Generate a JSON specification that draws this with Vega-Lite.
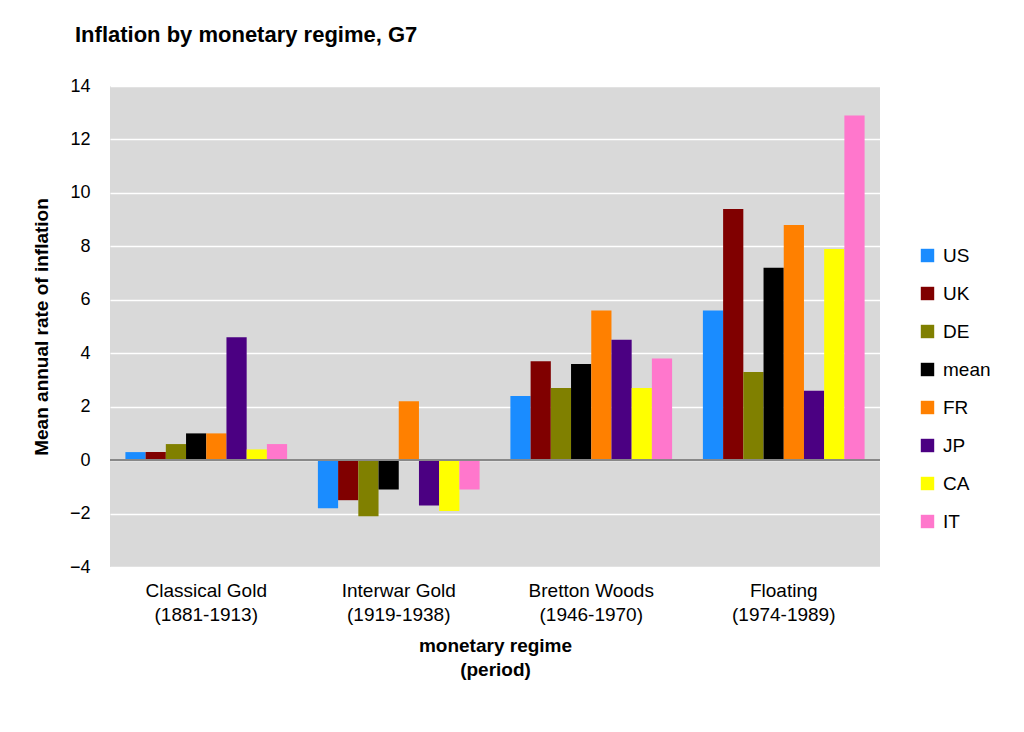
{
  "$schema": "https://vega.github.io/schema/vega-lite/v6.json",
  "autosize": {"type": "none"},
  "padding": {"left": 110, "top": 86, "right": 144, "bottom": 165},
  "width": 770,
  "height": 481,
  "title": {"text": "Inflation by monetary regime, G7", "anchor": "start", "frame": "group", "dx": -35, "offset": 30, "fontSize": 22, "font": "Liberation Sans", "fontWeight": "bold", "color": "black"},
  "config": {"view": {"fill": "#d9d9d9", "stroke": null}, "font": "Liberation Sans"},
  "data": {"values": [
    {"regime": "Classical Gold|(1881-1913)", "country": "US", "value": 0.3},
    {"regime": "Classical Gold|(1881-1913)", "country": "UK", "value": 0.3},
    {"regime": "Classical Gold|(1881-1913)", "country": "DE", "value": 0.6},
    {"regime": "Classical Gold|(1881-1913)", "country": "mean", "value": 1.0},
    {"regime": "Classical Gold|(1881-1913)", "country": "FR", "value": 1.0},
    {"regime": "Classical Gold|(1881-1913)", "country": "JP", "value": 4.6},
    {"regime": "Classical Gold|(1881-1913)", "country": "CA", "value": 0.4},
    {"regime": "Classical Gold|(1881-1913)", "country": "IT", "value": 0.6},
    {"regime": "Interwar Gold|(1919-1938)", "country": "US", "value": -1.8},
    {"regime": "Interwar Gold|(1919-1938)", "country": "UK", "value": -1.5},
    {"regime": "Interwar Gold|(1919-1938)", "country": "DE", "value": -2.1},
    {"regime": "Interwar Gold|(1919-1938)", "country": "mean", "value": -1.1},
    {"regime": "Interwar Gold|(1919-1938)", "country": "FR", "value": 2.2},
    {"regime": "Interwar Gold|(1919-1938)", "country": "JP", "value": -1.7},
    {"regime": "Interwar Gold|(1919-1938)", "country": "CA", "value": -1.9},
    {"regime": "Interwar Gold|(1919-1938)", "country": "IT", "value": -1.1},
    {"regime": "Bretton Woods|(1946-1970)", "country": "US", "value": 2.4},
    {"regime": "Bretton Woods|(1946-1970)", "country": "UK", "value": 3.7},
    {"regime": "Bretton Woods|(1946-1970)", "country": "DE", "value": 2.7},
    {"regime": "Bretton Woods|(1946-1970)", "country": "mean", "value": 3.6},
    {"regime": "Bretton Woods|(1946-1970)", "country": "FR", "value": 5.6},
    {"regime": "Bretton Woods|(1946-1970)", "country": "JP", "value": 4.5},
    {"regime": "Bretton Woods|(1946-1970)", "country": "CA", "value": 2.7},
    {"regime": "Bretton Woods|(1946-1970)", "country": "IT", "value": 3.8},
    {"regime": "Floating|(1974-1989)", "country": "US", "value": 5.6},
    {"regime": "Floating|(1974-1989)", "country": "UK", "value": 9.4},
    {"regime": "Floating|(1974-1989)", "country": "DE", "value": 3.3},
    {"regime": "Floating|(1974-1989)", "country": "mean", "value": 7.2},
    {"regime": "Floating|(1974-1989)", "country": "FR", "value": 8.8},
    {"regime": "Floating|(1974-1989)", "country": "JP", "value": 2.6},
    {"regime": "Floating|(1974-1989)", "country": "CA", "value": 7.9},
    {"regime": "Floating|(1974-1989)", "country": "IT", "value": 12.9}
  ]},
  "layer": [
    {
      "mark": {"type": "bar"},
      "encoding": {
        "x": {"field": "regime", "type": "nominal", "sort": null,
          "scale": {"paddingInner": 0.16, "paddingOuter": 0.08},
          "title": ["monetary regime", "(period)"],
          "axis": {"labelAngle": 0, "labelExpr": "split(datum.label, '|')", "labelFontSize": 19, "labelColor": "black", "labelPadding": 14, "labelLineHeight": 24, "ticks": false, "domain": false,
            "titleFontSize": 19, "titleFontWeight": "bold", "titleColor": "black", "titlePadding": 12, "titleLineHeight": 24}
        },
        "xOffset": {"field": "country", "type": "nominal", "sort": ["US", "UK", "DE", "mean", "FR", "JP", "CA", "IT"]},
        "y": {"field": "value", "type": "quantitative", "scale": {"domain": [-4, 14]},
          "title": "Mean annual rate of inflation",
          "axis": {"values": [-4, -2, 0, 2, 4, 6, 8, 10, 12, 14], "gridColor": "white", "gridWidth": 1.5, "gridOpacity": 1, "domain": false, "ticks": false, "labelFontSize": 18, "labelColor": "black", "labelPadding": 20,
            "titleFontSize": 19, "titleFontWeight": "bold", "titleColor": "black", "titlePadding": 18}
        },
        "color": {"field": "country", "type": "nominal", "sort": ["US", "UK", "DE", "mean", "FR", "JP", "CA", "IT"],
          "scale": {"domain": ["US", "UK", "DE", "mean", "FR", "JP", "CA", "IT"], "range": ["#1a8cff", "#800000", "#808000", "#000000", "#ff8000", "#4b0082", "#ffff00", "#ff77cc"]},
          "legend": {"title": null, "orient": "none", "legendX": 808, "legendY": 160, "symbolType": "square", "symbolSize": 180, "symbolStrokeWidth": 0, "labelFontSize": 19, "labelColor": "black", "rowPadding": 18, "labelOffset": 6}
        }
      }
    },
    {
      "mark": {"type": "rule", "color": "#888888", "strokeWidth": 1.5},
      "encoding": {"y": {"datum": 0}}
    }
  ]
}
